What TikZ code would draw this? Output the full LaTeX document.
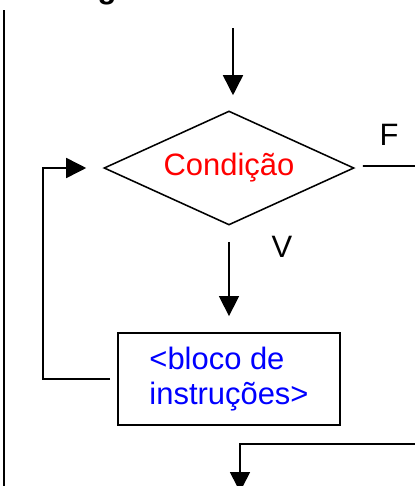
\documentclass[tikz,border=0pt]{standalone}
\usepackage{fontspec}
\setmainfont{Liberation Sans}
\usepackage{tikz}
\usetikzlibrary{arrows.meta,positioning,shapes.geometric,calc}
\usepackage{xcolor}
\definecolor{test}{HTML}{FF0000}
\definecolor{body}{HTML}{0000FF}

\begin{document}
\begin{tikzpicture}[
  font=\fontsize{22}{25}\selectfont,
  decision/.style={draw, diamond, aspect=2.2, line width=1.1pt, minimum width=6.25cm, minimum height=2.85cm, inner sep=0pt, text=test},
  block/.style={draw, line width=1.3pt, minimum width=5.55cm, minimum height=2.3cm, align=left, text=body},
  arr/.style={-{Triangle[length=0.5cm, width=0.5cm]}, line width=1.1pt},
  line/.style={line width=1.1pt},
]
  \useasboundingbox (0,0) rectangle (10.35,-12.15);

  \node[font=\fontsize{22}{25}\selectfont\bfseries, anchor=base] (head) at (2.675,0.04) {g};
  \draw[line width=1.6pt] (0.0925,-0.25) -- (0.0925,-12.2);

  \coordinate (start) at (5.825,-0.7);
  \node[decision] (cond) at (5.725,-4.2) {Condição};
  \node[block] (blk) at (5.725,-9.475) {<bloco de\\instruções>};
  \node (lf) at (9.725,-3.375) {F};
  \node (lv) at (7.05,-6.175) {V};
  \coordinate (lp) at (1.075,-4.2);
  \coordinate (fout) at (10.4,-4.15);
  \coordinate (fin) at (10.4,-11.1);
  \coordinate (next) at (6.0,-12.3);

  \draw[arr, shorten >=0.375cm] (start) -- (start |- cond.north);
  \draw[arr, shorten <=0.4cm, shorten >=0.4cm] (cond.south) -- (blk.north);
  \draw[arr, shorten >=0.425cm] ([xshift=-0.175cm]blk.west) -| (lp) -- (cond.west);
  \draw[line] ([xshift=0.2cm,yshift=0.05cm]cond.east) -- (fout);
  \draw[arr] (fin) -| (next);
\end{tikzpicture}
\end{document}
